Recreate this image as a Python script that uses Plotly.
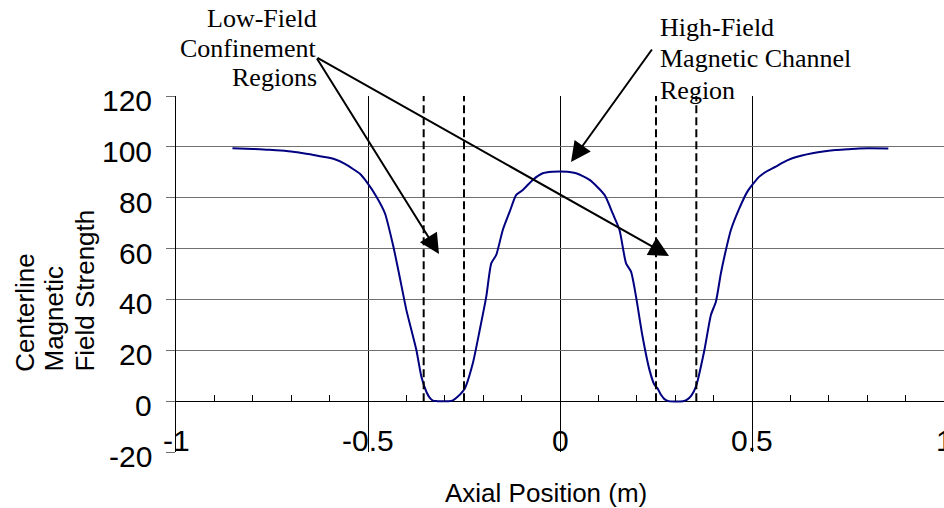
import plotly.graph_objects as go

# ---------------- data ----------------
axial_position = [-0.853, -0.80, -0.764, -0.712, -0.677, -0.651, -0.62, -0.59, -0.56, -0.539,
                  -0.521, -0.504, -0.478, -0.456, -0.435, -0.419, -0.40, -0.387, -0.374, -0.361,
                  -0.348, -0.34, -0.331, -0.32, -0.29, -0.279, -0.266, -0.248, -0.227, -0.209,
                  -0.192, -0.179, -0.166, -0.149, -0.131, -0.114, -0.097, -0.071, -0.045, -0.02,
                  0.0, 0.02, 0.042, 0.077, 0.116, 0.137, 0.155, 0.172, 0.185, 0.198,
                  0.215, 0.233, 0.246, 0.254, 0.263, 0.272, 0.283, 0.32, 0.33, 0.342,
                  0.354, 0.376, 0.393, 0.406, 0.419, 0.432, 0.445, 0.467, 0.488, 0.519,
                  0.54, 0.562, 0.58, 0.605, 0.63, 0.657, 0.69, 0.718, 0.75, 0.779, 0.855]
field_strength = [99.5, 99.2, 98.9, 98.4, 97.7, 97.1, 96.2, 95.3, 93.3, 91.3,
                  89.4, 86.3, 80.4, 73.9, 61.5, 50.0, 35.8, 28.0, 20.1, 9.6,
                  3.7, 1.5, 0.2, 0.0, 0.0, 0.3, 1.8, 5.0, 14.9, 28.0,
                  41.1, 54.2, 57.5, 67.3, 74.5, 81.1, 83.0, 87.0, 89.6, 90.2,
                  90.3, 90.2, 89.6, 87.0, 81.1, 73.9, 67.3, 54.2, 50.9, 41.1,
                  25.4, 12.3, 6.4, 5.0, 2.5, 0.8, 0.0, 0.0, 0.5, 2.2,
                  5.7, 20.0, 33.9, 39.1, 50.3, 59.4, 67.3, 75.8, 82.4, 88.3,
                  90.5, 92.2, 93.8, 95.5, 96.6, 97.5, 98.3, 98.8, 99.1, 99.4, 99.4]

region_bounds = [-0.355, -0.25, 0.25, 0.355]
region_y = [0, 120]

x_tick_vals = [-1, -0.5, 0, 0.5, 1]
x_tick_text = ["-1", "-0.5", "0", "0.5", "1"]
y_tick_vals = [-20, 0, 20, 40, 60, 80, 100, 120]
y_tick_text = ["-20", "0", "20", "40", "60", "80", "100", "120"]

low_field_lines = ["Low-Field", "Confinement", "Regions"]
high_field_lines = ["High-Field", "Magnetic Channel", "Region"]
y_title_lines = ["Centerline", "Magnetic", "Field Strength"]
x_title = "Axial Position (m)"

# ---------------- layout helpers ----------------
W, H = 944, 508
L, R, T, B = 176, 0, 96, 56
PW, PH = W - L - R, H - T - B


def px(p):
    return (p - L) / PW


def py(p):
    return (H - B - p) / PH


SANS = "Liberation Sans, Arial, sans-serif"
SERIF = "Liberation Serif, Times New Roman, serif"

fig = go.Figure()

fig.add_trace(go.Scatter(x=axial_position, y=field_strength, mode="lines",
                         line=dict(color="#000080", width=2, shape="spline", smoothing=0.6),
                         hoverinfo="skip"))

for b in region_bounds:
    fig.add_trace(go.Scatter(x=[b, b], y=region_y, mode="lines", xaxis="x2", yaxis="y",
                             line=dict(color="black", width=2, dash="8px,4px"),
                             hoverinfo="skip"))

ann = []
# x tick labels (drawn just above the bottom line)
for v, t in zip(x_tick_vals, x_tick_text):
    ann.append(dict(x=v, y=-20, xref="x", yref="y", text=t, showarrow=False,
                    xanchor="center", yanchor="bottom", yshift=-7,
                    font=dict(family=SANS, size=30, color="black")))
# y tick labels
for v, t in zip(y_tick_vals, y_tick_text):
    ann.append(dict(x=px(154), y=v, xref="paper", yref="y", text=t, showarrow=False,
                    xanchor="right", yanchor="middle", yshift=-4.5,
                    font=dict(family=SANS, size=30, color="black")))
# axis titles
ann.append(dict(x=px(546), y=py(492.5), xref="paper", yref="paper", text=x_title,
                showarrow=False, xanchor="center", yanchor="middle",
                font=dict(family=SANS, size=26, color="black")))
for cx, t in zip([24.3, 53.5, 84.6], y_title_lines):
    ann.append(dict(x=px(cx), y=py(374), xref="paper", yref="paper", text=t,
                    showarrow=False, textangle=-90, xanchor="center", yanchor="bottom",
                    font=dict(family=SANS, size=26, color="black")))
# callout texts
for t, base in zip(low_field_lines, [28.3, 58.3, 87.3]):
    ann.append(dict(x=px(319), y=py(base + 6.6), xref="paper", yref="paper", text=t,
                    showarrow=False, xanchor="right", yanchor="bottom",
                    font=dict(family=SERIF, size=26, color="black")))
for t, base in zip(high_field_lines, [37.3, 68.3, 100.0]):
    ann.append(dict(x=px(658), y=py(base + 6.6), xref="paper", yref="paper", text=t,
                    showarrow=False, xanchor="left", yanchor="bottom",
                    font=dict(family=SERIF, size=26, color="black")))
# arrows (tip, tail in pixels)
arrows = [((439, 254), (316, 57)), ((669, 256), (316, 57)), ((571, 162), (653, 48))]
for (tx, ty), (sx, sy) in arrows:
    ann.append(dict(x=px(tx), y=py(ty), xref="paper", yref="paper", text="",
                    showarrow=True, ax=sx - tx, ay=sy - ty, axref="pixel", ayref="pixel",
                    arrowhead=2, arrowsize=2, arrowwidth=2, arrowcolor="black"))

fig.update_layout(
    width=W, height=H, autosize=False,
    margin=dict(l=L, r=R, t=T, b=B, pad=0),
    paper_bgcolor="white", plot_bgcolor="white",
    showlegend=False,
    annotations=ann,
    xaxis=dict(range=[-1, 1], tickvals=x_tick_vals, showticklabels=False, ticks="",
               showgrid=True, gridcolor="black", gridwidth=1, zeroline=False,
               showline=False, fixedrange=True),
    xaxis2=dict(range=[-1, 1], overlaying="x", anchor="free", position=20 / 140,
                side="bottom", dtick=0.1, tick0=0, ticks="inside", ticklen=6,
                tickcolor="black", tickwidth=1, showticklabels=False, showgrid=False,
                zeroline=False, showline=False, fixedrange=True),
    yaxis=dict(range=[-20, 120], tickvals=y_tick_vals, showticklabels=False,
               ticks="outside", ticklen=9, tickcolor="#707070", tickwidth=1,
               showgrid=True, gridcolor="#707070", gridwidth=1,
               zeroline=True, zerolinecolor="black", zerolinewidth=1,
               showline=True, linecolor="black", linewidth=1, fixedrange=True),
)

fig.write_html("out.html", config={"displayModeBar": False},
               post_script="document.body.style.margin='0';document.body.style.overflow='hidden';")
